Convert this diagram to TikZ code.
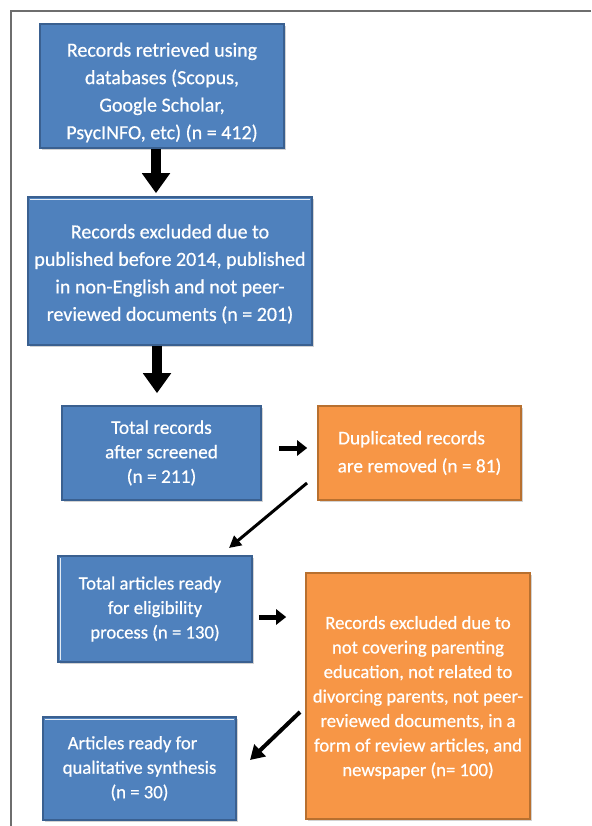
\documentclass[tikz,border=0pt]{standalone}
\usepackage{fontspec}
\setmainfont{Carlito}[FakeBold=0.5]
\usetikzlibrary{arrows.meta,shadows,calc}
\definecolor{boxblue}{HTML}{4F81BD}
\definecolor{blueedge}{HTML}{3A6090}
\definecolor{boxorange}{HTML}{F79646}
\definecolor{orangeedge}{HTML}{B8702F}
\definecolor{framegray}{HTML}{6E6E6E}
\begin{document}
\begin{tikzpicture}[x=1pt,y=-1pt,
  box/.style={line width=1.6pt, text=white, align=center, inner sep=0pt,
    drop shadow={shadow xshift=1.5pt, shadow yshift=-2pt, opacity=0.35}},
  bluebox/.style={box, fill=boxblue, draw=blueedge},
  orangebox/.style={box, fill=boxorange, draw=orangeedge},
  bigfont/.style={font=\fontsize{20}{27.5}\selectfont},
  midfont/.style={font=\fontsize{19.3}{24.5}\selectfont},
  dupfont/.style={font=\fontsize{19.3}{28}\selectfont},
  smallfont/.style={font=\fontsize{18.7}{24.5}\selectfont},
  bigarrow/.style={line width=10pt, -{Triangle[width=27pt,length=20pt]}},
  smallarrow/.style={line width=5pt, -{Triangle[width=15pt,length=10pt]}},
  diagarrow/.style={line width=3pt, -{Triangle[width=12pt,length=12pt]}},
  diagarrowb/.style={line width=4pt, -{Triangle[width=16pt,length=14pt]}},
  bevel/.style={white, line width=0.9pt, opacity=0.85}
]
\useasboundingbox (0,0) rectangle (591,826);
\fill[white] (0,0) rectangle (591,826);
\draw[framegray, line width=2pt] (591,11.5) -- (11,11.5) -- (11,826);

\node[bluebox, bigfont, minimum width=244pt, minimum height=124pt] (b1) at (162,86)
  {\rule{0pt}{27pt}Records retrieved using\\databases (Scopus,\\Google Scholar,\\PsycINFO, etc) (n = 412)};
\node[bluebox, bigfont, minimum width=284pt, minimum height=148pt] (b2) at (170,271)
  {\rule{0pt}{20pt}Records excluded due to\\published before 2014, published\\in non-English and not peer-\\reviewed documents (n = 201)};
\node[bluebox, midfont, minimum width=199pt, minimum height=94pt] (b3) at (161.5,453)
  {Total records\\after screened\\(n = 211)};
\node[orangebox, dupfont, minimum width=203pt, minimum height=94pt] (b4) at (419.5,453)
  {\hspace*{-16pt}Duplicated records\\are removed (n = 81)};
\node[bluebox, smallfont, minimum width=194pt, minimum height=106pt] (b5) at (155,609)
  {\hspace*{-10pt}Total articles ready\\for eligibility\\process (n = 130)};
\node[orangebox, smallfont, minimum width=224pt, minimum height=246pt] (b6) at (418,696)
  {\rule{0pt}{16pt}Records excluded due to\\not covering parenting\\education, not related to\\divorcing parents, not peer-\\reviewed documents, in a\\form of review articles, and\\newspaper (n= 100)};
\node[bluebox, smallfont, minimum width=193pt, minimum height=103pt] (b7) at (139.5,768.5)
  {\hspace*{-14pt}Articles ready for\\qualitative synthesis\\(n = 30)};

% bevel highlights
\draw[bevel] ($(b2.north west)+(3,3.5)$) -- ($(b2.north east)+(-3,3.5)$);
\draw[bevel] ($(b5.north west)+(3.5,3)$) -- ($(b5.south west)+(3.5,-3)$);
\draw[bevel] ($(b7.north west)+(3,3.5)$) -- ($(b7.north east)+(-3,3.5)$);

% connectors
\draw[bigarrow, shorten >=3pt] (b1.south -| 156,0) -- (b2.north -| 156,0);
\draw[bigarrow, shorten >=12pt] (b2.south -| 157,0) -- (b3.north -| 157,0);
\draw[smallarrow, shorten <=17pt, shorten >=10pt] (b3.east |- 0,448) -- (b4.west |- 0,448);
\draw[smallarrow, shorten <=6pt, shorten >=19pt] (b5.east |- 0,617) -- (b6.west |- 0,617);
\coordinate (d1s) at (307,483);
\coordinate (d1e) at (229,548);
\draw[diagarrow] (d1s) -- (d1e);
\coordinate (d2s) at (300,712);
\coordinate (d2e) at (250,760);
\draw[diagarrowb] (d2s) -- (d2e);
\end{tikzpicture}
\end{document}
